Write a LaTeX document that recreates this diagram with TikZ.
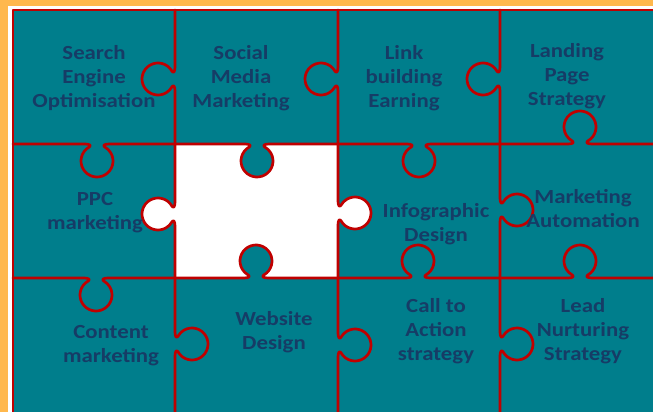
\documentclass[tikz,border=0pt]{standalone}
\usepackage{fontspec}
\setmainfont{Carlito}
\usepackage{graphicx}

\definecolor{pieceteal}{HTML}{007E8C}
\definecolor{edgered}{HTML}{C00000}
\definecolor{frameorange}{HTML}{FFB84D}
\definecolor{labelnavy}{HTML}{163C66}

\tikzset{
  edge/.style={draw=edgered, line width=2.7pt, line join=round, line cap=round},
  label/.style={text=labelnavy, font=\fontsize{20}{24}\selectfont\bfseries, inner sep=0pt},
}

% one tab of a jigsaw edge, in local coordinates: the edge runs along u, the tab bulges towards +v
\newcommand\tabpath{-- (-12,0) .. controls (-7,0) and (-5.4,1.64) .. (-8,3.14)
  arc[start angle=240, end angle=-60, radius=16]
  .. controls (5.4,1.64) and (7,0) .. (12,0)}

% \kedge{cx}{cy}{turn}{u start}{u end}: an edge with a tab centred at (cx,cy)
\newcommand\kedge[5]{%
  \begin{scope}[shift={(#1,#2)}, rotate=#3]
    \draw[edge] (#4,0) \tabpath -- (#5,0);
  \end{scope}}

% \ktab{cx}{cy}{turn}{colour}: the filled body of a tab
\newcommand\ktab[4]{%
  \begin{scope}[shift={(#1,#2)}, rotate=#3]
    \fill[#4] (-12,0) \tabpath -- cycle;
  \end{scope}}

\newcommand\lbl[1]{\scalebox{1.14}[1]{\begin{tabular}{@{}c@{}}#1\end{tabular}}}

\begin{document}
\begin{tikzpicture}[x=1pt, y=-1pt]
  \useasboundingbox (0,0) rectangle (653,412);
  \clip (0,0) rectangle (653,412);

  % frame and board
  \fill[frameorange] (0,0) rectangle (653,412);
  \fill[white] (8,6) rectangle (653,412);
  \fill[pieceteal] (13,10) rectangle (653,412);

  % the blank piece
  \fill[white] (175,144) rectangle (338,278);
  \ktab{257}{144}{0}{pieceteal}
  \ktab{256}{278}{180}{pieceteal}
  \ktab{175}{214}{-90}{white}
  \ktab{338}{213}{90}{white}

  % outer border
  \draw[edge] (13,412) -- (13,10) -- (653,10);

  % horizontal edges, first row boundary
  \kedge{97}{144}{0}{-84}{78}
  \kedge{257}{144}{0}{-82}{81}
  \kedge{419}{144}{0}{-81}{81}
  \kedge{580}{144}{180}{-90}{80}
  % horizontal edges, second row boundary
  \kedge{96}{278}{0}{-83}{79}
  \kedge{256}{278}{180}{-82}{81}
  \kedge{418}{278}{180}{-82}{80}
  \kedge{580}{278}{180}{-90}{80}

  % vertical edges, top row
  \kedge{175}{79}{-90}{-69}{65}
  \kedge{338}{79}{-90}{-69}{65}
  \kedge{500}{79}{-90}{-69}{65}
  % vertical edges, middle row
  \kedge{175}{214}{-90}{-70}{64}
  \kedge{338}{213}{90}{-65}{69}
  \kedge{500}{210}{90}{-68}{66}
  % vertical edges, bottom row
  \kedge{175}{344}{90}{-76}{66}
  \kedge{338}{345}{90}{-75}{67}
  \kedge{500}{344}{90}{-76}{66}

  % labels
  \node[label] (seo)  at (94,79)  {\lbl{Search\\Engine\\Optimisation}};
  \node[label] (smm)  at (241,79) {\lbl{Social\\Media\\Marketing}};
  \node[label] (link) at (404,79) {\lbl{Link\\building\\Earning}};
  \node[label] (land) at (567,77) {\lbl{Landing\\Page\\Strategy}};
  \node[label] (ppc)  at (95,213) {\lbl{PPC\\marketing}};
  \node[label] (info) at (436,225) {\lbl{Infographic\\Design}};
  \node[label] (auto) at (583,211) {\lbl{Marketing\\Automation}};
  \node[label] (cont) at (111,346) {\lbl{Content\\marketing}};
  \node[label] (web)  at (274,333) {\lbl{Website\\Design}};
  \node[label] (cta)  at (436,332) {\lbl{Call to\\Action\\strategy}};
  \node[label] (lead) at (583,332) {\lbl{Lead\\Nurturing\\Strategy}};
\end{tikzpicture}
\end{document}
